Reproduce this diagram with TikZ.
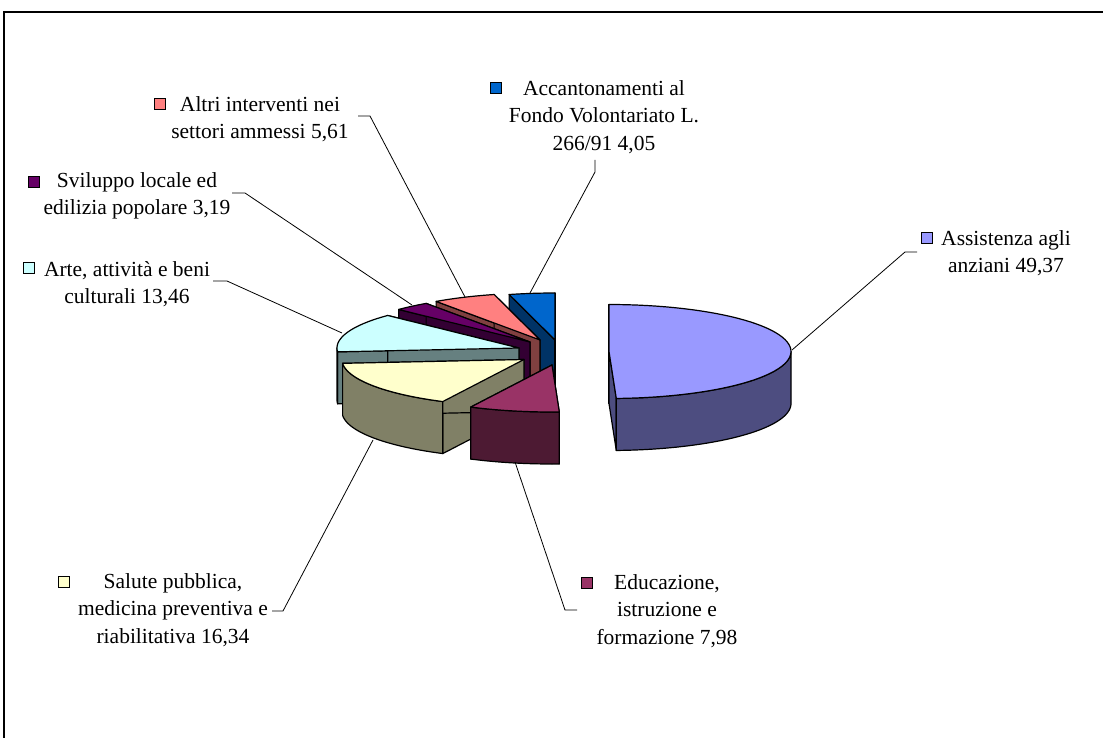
\documentclass[tikz,border=0pt]{standalone}
\usepackage{fontspec}
\setmainfont{Liberation Serif}
\definecolor{accT}{HTML}{0066CC}\definecolor{accD}{HTML}{003366}
\definecolor{altT}{HTML}{FF8080}\definecolor{altD}{HTML}{804040}
\definecolor{svT}{HTML}{660066}\definecolor{svD}{HTML}{330033}
\definecolor{arT}{HTML}{CCFFFF}\definecolor{arD}{HTML}{668080}
\definecolor{saT}{HTML}{FFFFCC}\definecolor{saD}{HTML}{808066}
\definecolor{edT}{HTML}{993366}\definecolor{edD}{HTML}{4D1A33}
\definecolor{asT}{HTML}{9999FF}\definecolor{asD}{HTML}{4D4D80}
\def\pRx{182}\def\pRy{47}\def\pD{52}
\tikzset{
  face/.style={draw=black, line width=1.2pt, line join=round},
  leader/.style={draw=black, line width=0.8pt},
  lbl/.style={align=center, font=\fontsize{21.5}{27.5}\selectfont, inner sep=0pt},
  key/.style={draw=black, line width=0.8pt, minimum size=11pt, inner sep=0pt},
}
% #1 ax, #2 ay, #3 start, #4 end, #5 top colour, #6 side colour, #7 front start, #8 front end
\newcommand\pslice[8]{%
  \path[face, fill=#6] (#1,#2) -- ({#1+\pRx*sin(#3)},{#2-\pRy*cos(#3)}) -- ++(0,\pD) -- ({#1},{#2+\pD}) -- cycle;
  \path[face, fill=#6] (#1,#2) -- ({#1+\pRx*sin(#4)},{#2-\pRy*cos(#4)}) -- ++(0,\pD) -- ({#1},{#2+\pD}) -- cycle;
  \ifdim #7pt<#8pt
    \path[face, fill=#6] plot[domain=#7:#8, samples=50] ({#1+\pRx*sin(\x)},{#2-\pRy*cos(\x)})
      -- plot[domain=#8:#7, samples=50] ({#1+\pRx*sin(\x)},{#2-\pRy*cos(\x)+\pD}) -- cycle;
  \fi
  \path[face, fill=#5] (#1,#2) -- plot[domain=#3:#4, samples=60] ({#1+\pRx*sin(\x)},{#2-\pRy*cos(\x)}) -- cycle;
}
\begin{document}
\begin{tikzpicture}[x=1pt, y=-1pt]
\useasboundingbox (0,0) rectangle (1103,738);
\fill[white] (0,0) rectangle (1103,738);
\draw[line width=2pt] (1103,12) -- (4,12) -- (4,738);

% pie slices, back to front
\pslice{555}{340}{345.4}{360}{accT}{accD}{0}{0}
\pslice{540}{340}{325.2}{345.4}{altT}{altD}{0}{0}
\pslice{530}{342}{313.8}{325.2}{svT}{svD}{0}{0}
\pslice{519}{348}{265.3}{313.8}{arT}{arD}{265.3}{270}
\pslice{524}{359.5}{206.5}{265.3}{saT}{saD}{206.5}{265.3}
\pslice{552}{365}{177.7}{206.5}{edT}{edD}{177.7}{206.5}
\pslice{609}{351.5}{0}{177.7}{asT}{asD}{90}{177.7}

% labels
\node[lbl] (accL) at (604,117) {Accantonamenti al\\Fondo Volontariato L.\\266/91 4,05};
\node[key, fill=accT] (accK) at (496,88) {};
\node[lbl] (altL) at (260,119) {Altri interventi nei\\settori ammessi 5,61};
\node[key, fill=altT] (altK) at (160,104) {};
\node[lbl] (svL) at (137,196) {Sviluppo locale ed\\edilizia popolare 3,19};
\node[key, fill=svT] (svK) at (34,182) {};
\node[lbl] (arL) at (127,284) {Arte, attività e beni\\culturali 13,46};
\node[key, fill=arT] (arK) at (29,268) {};
\node[lbl] (asL) at (1006,253) {Assistenza agli\\anziani 49,37};
\node[key, fill=asT] (asK) at (927,238) {};
\node[lbl] (saL) at (173,610) {Salute pubblica,\\medicina preventiva e\\riabilitativa 16,34};
\node[key, fill=saT] (saK) at (64,582) {};
\node[lbl] (edL) at (667,611) {Educazione,\\istruzione e\\formazione 7,98};
\node[key, fill=edT] (edK) at (587,583) {};

% leader lines
\coordinate (accA) at (595,160); \coordinate (accB) at (595,172); \coordinate (accC) at (530,293);
\coordinate (altA) at (358,116); \coordinate (altB) at (370,116); \coordinate (altC) at (465,297);
\coordinate (svA) at (232,193); \coordinate (svB) at (245,193); \coordinate (svC) at (412,305);
\coordinate (arA) at (213,281); \coordinate (arB) at (227,281); \coordinate (arC) at (342,333);
\coordinate (asA) at (917,252); \coordinate (asB) at (905,252); \coordinate (asC) at (792,350);
\coordinate (saA) at (272,611); \coordinate (saB) at (283,611); \coordinate (saC) at (373,440);
\coordinate (edA) at (577,610); \coordinate (edB) at (565,610); \coordinate (edC) at (515,462);
\draw[leader] (accA) -- (accB) -- (accC);
\draw[leader] (altA) -- (altB) -- (altC);
\draw[leader] (svA) -- (svB) -- (svC);
\draw[leader] (arA) -- (arB) -- (arC);
\draw[leader] (asA) -- (asB) -- (asC);
\draw[leader] (saA) -- (saB) -- (saC);
\draw[leader] (edA) -- (edB) -- (edC);
\end{tikzpicture}
\end{document}
